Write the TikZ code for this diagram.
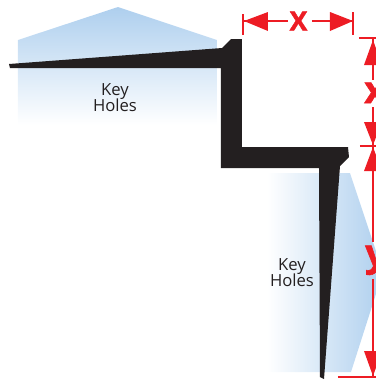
\documentclass[tikz,border=0pt]{standalone}
\usepackage{fontspec}
\setmainfont{Open Sans}
\newfontfamily\heavyfont[FakeBold=1.6]{Open Sans}
\definecolor{dimred}{HTML}{ED1C24}
\definecolor{keyblue}{HTML}{AECFEE}
\definecolor{profile}{HTML}{231F20}
\tikzset{
  px/.style={x=0.75pt,y=-0.75pt},
  dimline/.style={draw=dimred,line width=1.5pt},
  dimhead/.style={fill=dimred,draw=none},
  dimcap/.style={text=dimred,font=\heavyfont\bfseries\fontsize{20}{20}\selectfont,inner sep=0pt},
  dimletter/.style={text=dimred,font=\heavyfont\bfseries\fontsize{28}{28}\selectfont,inner sep=0pt,anchor=base west},
  keylabel/.style={text=profile,font=\fontsize{12.5}{13}\selectfont,align=center,inner sep=0pt}
}
\begin{document}
\begin{tikzpicture}[px]
\useasboundingbox (0,0) rectangle (376,380);
\clip (0,0) rectangle (376,380);
% key hole zones
\shade[top color=keyblue,middle color=keyblue!65,bottom color=white] (18,40) -- (118,7) -- (217,40) -- (217,125) -- (18,125) -- cycle;
\shade[left color=white,middle color=keyblue!65,right color=keyblue] (267,173) -- (350,173) -- (383,272) -- (351,372) -- (267,372) -- cycle;
% profile
\fill[profile] (9,64) -- (222,48) -- (231,39) -- (242,39) -- (242,147) -- (348,147) -- (349,157) -- (340,166)
  -- (324,379) -- (320,377) -- (319,168) -- (221,168) -- (221,68) -- (10,68) -- cycle;
% labels
\node[keylabel] (k1) at (115,98) {Key\\[-1pt]Holes};
\node[keylabel] (k2) at (292,272.5) {Key\\[-1pt]Holes};
% X dimension
\coordinate (xl) at (244,21);
\coordinate (xr) at (353,21);
\coordinate (xa) at (288,21);
\coordinate (xb) at (312,21);
\node[dimcap] (xlab) at (298.5,21) {X};
\draw[dimline] (243.5,14) -- (243.5,35);
\draw[dimline] (353,12) -- (353,35);
\draw[dimline] (xl) -- (xa);
\draw[dimline] (xb) -- (xr);
\fill[dimhead] (xl) -- (268,12) -- (268,31) -- cycle;
\fill[dimhead] (xr) -- (330,12) -- (330,31) -- cycle;
% vertical dimensions
\coordinate (t1) at (373,38);
\coordinate (t2) at (373,145.5);
\coordinate (t3) at (373,377);
\coordinate (xva) at (373,80);
\coordinate (xvb) at (373,107);
\coordinate (yva) at (373,242);
\coordinate (yvb) at (373,279);
\draw[dimline] (359,38) -- (376,38);
\draw[dimline] (360,145.5) -- (376,145.5);
\draw[dimline] (338,377) -- (376,377);
\node[dimletter] (xv) at (364,103) {x};
\node[dimletter] (yv) at (365,266) {y};
\draw[dimline] (t1) -- (xva);
\draw[dimline] (xvb) -- (t2);
\draw[dimline] (t2) -- (yva);
\draw[dimline] (yvb) -- (t3);
\fill[dimhead] (373,40) -- (364,65) -- (382,65) -- cycle;
\fill[dimhead] (373,145) -- (364,122) -- (382,122) -- cycle;
\fill[dimhead] (373,147) -- (364,171) -- (382,171) -- cycle;
\fill[dimhead] (373,376) -- (364,351) -- (382,351) -- cycle;
\end{tikzpicture}
\end{document}
